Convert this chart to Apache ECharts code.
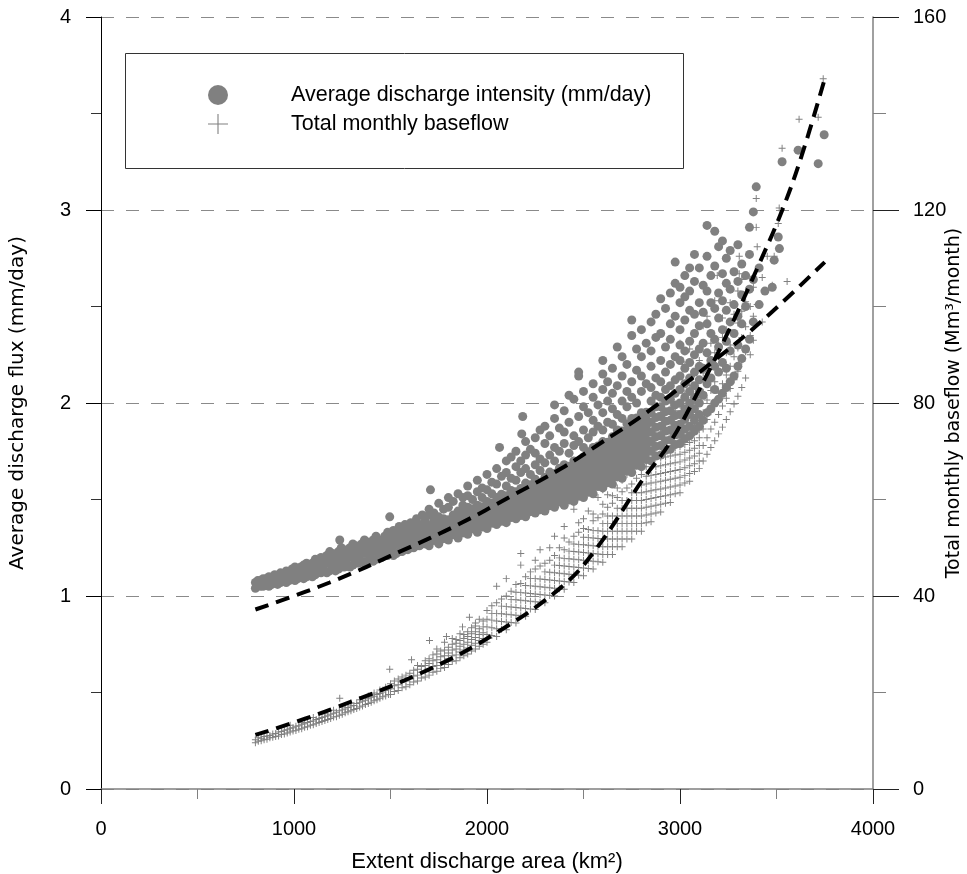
<!DOCTYPE html>
<html>
<head>
<meta charset="utf-8">
<title>Discharge area vs flux</title>
<script src="https://cdn.jsdelivr.net/npm/echarts@6/dist/echarts.min.js"></script>
<style>
  html, body { margin: 0; padding: 0; background: #ffffff; }
  #chart { width: 967px; height: 874px; }
</style>
</head>
<body>
<div id="chart"></div>
<script>
  // x axis ticks (km2) and the two y axes
  const xTicks = [0, 1000, 2000, 3000, 4000]
  const fluxTicks = [0, 1, 2, 3, 4]
  const baseflowTicks = [0, 40, 80, 120, 160]

  // average discharge intensity (mm/day, left axis), one row per area column: [km2, y, y, ...]
  const intensityColumns = [
    [800,1.04,1.07],[812,1.06,1.08],[825,1.05,1.08],[840,1.05,1.07,1.09],[855,1.06,1.09],
    [870,1.05,1.08,1.10],[885,1.06,1.09],[900,1.07,1.09,1.11],[915,1.06,1.10],[930,1.07,1.09,1.12],
    [945,1.08,1.11],[960,1.07,1.10,1.13],[975,1.08,1.12],[990,1.09,1.11,1.14],[1005,1.08,1.12,1.15],
    [1020,1.09,1.13],[1035,1.10,1.12,1.15],[1050,1.09,1.14,1.16],[1065,1.10,1.13,1.17],[1080,1.11,1.15],
    [1095,1.10,1.14,1.17],[1110,1.11,1.16,1.19],[1125,1.12,1.15,1.18],[1140,1.12,1.17,1.20],
    [1155,1.13,1.16,1.19],[1170,1.12,1.18,1.21],[1185,1.13,1.17,1.20,1.23],[1200,1.14,1.19,1.22],
    [1215,1.13,1.17,1.21],[1230,1.14,1.19,1.23],[1237,1.29],[1245,1.15,1.18,1.22,1.25],[1260,1.15,1.20,1.23],
    [1275,1.16,1.19,1.24],[1290,1.15,1.21,1.25],[1305,1.16,1.20,1.23,1.27],[1320,1.17,1.22,1.26],
    [1335,1.17,1.21,1.24],[1350,1.18,1.23,1.27],[1365,1.17,1.22,1.25,1.29],[1380,1.18,1.24,1.28],
    [1395,1.19,1.22,1.26],[1410,1.18,1.24,1.29],[1425,1.19,1.23,1.27,1.31],[1440,1.20,1.25,1.29],
    [1455,1.20,1.24,1.28],[1470,1.21,1.26,1.31],[1485,1.21,1.25,1.29,1.33],[1496,1.41],[1500,1.22,1.27,1.31],
    [1515,1.21,1.26,1.30,1.34],[1530,1.22,1.28,1.32],[1545,1.23,1.27,1.31,1.36],[1560,1.23,1.29,1.33],
    [1575,1.24,1.28,1.32,1.37],[1590,1.24,1.30,1.35],[1605,1.25,1.29,1.33,1.38],[1620,1.25,1.31,1.36],
    [1635,1.26,1.30,1.34,1.40],[1650,1.26,1.32,1.37],[1665,1.27,1.31,1.36,1.42],[1680,1.27,1.33,1.39],
    [1700,1.26,1.295,1.33,1.365,1.42,1.45],[1707,1.55],[1725,1.287,1.322,1.357,1.39,1.43],
    [1750,1.27,1.305,1.34,1.375,1.41,1.48],[1775,1.297,1.332,1.367,1.40,1.45],
    [1800,1.29,1.325,1.36,1.395,1.46,1.51],[1825,1.317,1.352,1.387,1.42,1.49],
    [1850,1.30,1.335,1.37,1.405,1.44,1.53],[1875,1.327,1.362,1.397,1.432,1.47,1.51],
    [1900,1.32,1.355,1.39,1.425,1.46,1.52,1.57],[1925,1.347,1.382,1.417,1.452,1.50],
    [1950,1.33,1.365,1.40,1.435,1.47,1.54,1.60],[1975,1.357,1.392,1.427,1.462,1.51,1.56],
    [2000,1.35,1.385,1.42,1.455,1.49,1.55,1.63],[2025,1.377,1.412,1.447,1.482,1.53,1.59],
    [2050,1.37,1.405,1.44,1.475,1.51,1.58,1.66],[2065,1.77],[2075,1.387,1.422,1.457,1.492,1.527,1.62],
    [2100,1.38,1.415,1.45,1.485,1.52,1.57,1.64,1.70],[2125,1.407,1.442,1.477,1.512,1.547,1.61,1.72],
    [2150,1.40,1.435,1.47,1.505,1.54,1.60,1.67,1.75],[2175,1.417,1.452,1.487,1.522,1.557,1.64,1.70],
    [2180,1.84],[2185,1.93],[2200,1.41,1.445,1.48,1.515,1.55,1.585,1.66,1.73,1.80],
    [2225,1.437,1.472,1.507,1.542,1.577,1.63,1.76],[2250,1.43,1.465,1.50,1.535,1.57,1.605,1.68,1.74,1.82],
    [2275,1.447,1.482,1.517,1.552,1.587,1.65,1.71,1.86],[2300,1.44,1.475,1.51,1.545,1.58,1.615,1.69,1.79,1.88],
    [2325,1.467,1.502,1.537,1.572,1.607,1.642,1.73,1.83],
    [2350,1.46,1.495,1.53,1.565,1.60,1.635,1.70,1.77,1.92,1.99],[2375,1.487,1.522,1.557,1.592,1.627,1.662,1.75,1.87],
    [2400,1.47,1.505,1.54,1.575,1.61,1.645,1.68,1.79,1.85,1.96],[2425,1.497,1.532,1.567,1.602,1.637,1.672,1.74,1.90,2.04],
    [2450,1.49,1.525,1.56,1.595,1.63,1.665,1.70,1.78,1.83,2.02],[2475,1.517,1.552,1.587,1.622,1.657,1.692,1.80,1.93,2.14,2.16],
    [2500,1.51,1.545,1.58,1.615,1.65,1.685,1.72,1.77,1.86,1.98,2.06],[2525,1.537,1.572,1.607,1.642,1.677,1.712,1.747,1.82,1.95],
    [2550,1.53,1.565,1.60,1.635,1.67,1.705,1.74,1.77,1.85,1.91,2.03,2.10],[2575,1.567,1.602,1.637,1.672,1.707,1.742,1.777,1.88,1.99],
    [2600,1.56,1.595,1.63,1.665,1.70,1.735,1.77,1.80,1.86,1.95,2.07,2.15,2.22],[2625,1.587,1.622,1.657,1.692,1.727,1.762,1.797,1.90,2.01,2.11],
    [2650,1.58,1.615,1.65,1.685,1.72,1.755,1.79,1.825,1.89,1.97,2.05,2.18],[2675,1.617,1.652,1.687,1.722,1.757,1.792,1.827,1.86,1.94,2.09,2.29],
    [2700,1.61,1.645,1.68,1.715,1.75,1.785,1.82,1.855,1.92,2.01,2.14,2.24],[2725,1.647,1.682,1.717,1.752,1.787,1.822,1.857,1.892,1.98,2.06,2.20],
    [2750,1.64,1.675,1.71,1.745,1.78,1.815,1.85,1.885,1.92,2.03,2.11,2.35,2.43],[2775,1.677,1.712,1.747,1.782,1.817,1.852,1.887,1.922,2.00,2.17,2.28],
    [2800,1.67,1.705,1.74,1.775,1.81,1.845,1.88,1.915,1.95,2.06,2.14,2.24,2.38],[2825,1.707,1.742,1.777,1.812,1.847,1.882,1.917,1.952,2.10,2.31],
    [2850,1.70,1.75,1.80,1.85,1.90,1.95,2.01,2.08,2.19,2.27,2.42],[2875,1.725,1.775,1.825,1.875,1.925,1.98,2.04,2.13,2.34,2.46],
    [2900,1.73,1.78,1.83,1.88,1.93,1.98,2.03,2.11,2.22,2.36,2.54],[2925,1.755,1.805,1.855,1.905,1.955,2.01,2.07,2.16,2.29,2.49],
    [2950,1.76,1.81,1.86,1.91,1.96,2.02,2.09,2.20,2.33,2.41,2.57],[2975,1.785,1.835,1.885,1.935,1.99,2.05,2.12,2.24,2.45,2.62,2.73],
    [3000,1.79,1.84,1.89,1.94,2.00,2.07,2.14,2.22,2.30,2.38,2.52,2.60],[3025,1.815,1.865,1.915,1.97,2.03,2.10,2.18,2.27,2.43,2.55,2.66],
    [3050,1.83,1.88,1.94,2.00,2.06,2.13,2.21,2.32,2.48,2.58,2.70],[3075,1.855,1.91,1.97,2.03,2.09,2.16,2.25,2.36,2.46,2.63,2.77],
    [3100,1.88,1.94,2.00,2.06,2.12,2.19,2.28,2.40,2.52,2.70],
    [3120,1.91,2.04,2.18,2.31,2.47,2.61],[3140,1.95,2.10,2.26,2.41,2.58,2.76,2.92],[3160,1.97,2.13,2.22,2.36,2.52,2.66],
    [3180,2.00,2.07,2.19,2.33,2.49,2.71,2.89],[3200,2.02,2.16,2.29,2.44,2.57,2.81],[3220,2.05,2.21,2.38,2.53,2.67,2.84],
    [3240,2.08,2.18,2.32,2.48,2.62,2.75],[3260,2.11,2.27,2.42,2.59,2.79],[3280,2.14,2.36,2.51,2.68],
    [3300,2.19,2.30,2.45,2.63,2.82],[3320,2.23,2.41,2.56,2.72],[3340,2.28,2.50,2.66],[3360,2.33,2.59,2.77,2.91],
    [3380,2.42,2.64,2.99],[3395,3.12],[3410,2.51,2.70],[3440,2.58],[3478,2.60],[3488,2.74],[3509,2.86],[3515,2.80],
    [3529,3.25],[3612,3.31],[3716,3.24],[3747,3.39]
  ]

  // total monthly baseflow (Mm3/month, right axis), same column layout
  const baseflowColumns = [
    [800,9.6,10.2],[815,9.9,10.6],[830,10.0,10.5],[845,10.2,10.9],[860,10.3,11.0],[875,10.6,11.1],
    [890,10.7,11.4],[905,10.9,11.5],[920,11.0,11.8],[935,11.3,11.9],[950,11.4,12.2],[965,11.6,12.3],
    [980,11.8,12.6,13.2],[995,12.0,12.7],[1010,12.1,13.0],[1025,12.4,13.1],[1040,12.5,13.4,13.8],
    [1055,12.8,13.5],[1070,12.9,13.8],[1085,13.2,14.0],[1100,13.3,14.1,14.8],[1115,13.6,14.4],
    [1130,13.8,14.6],[1145,14.0,14.8],[1160,14.2,15.0,15.6],[1175,14.4,15.2],[1190,14.6,15.5],
    [1205,14.9,15.7,16.3],[1220,15.0,15.9],[1237,18.8],[1235,15.3,16.2],[1250,15.5,16.4,17.0],
    [1265,15.8,16.6],[1280,16.0,16.9],[1295,16.2,17.2,17.8],[1310,16.5,17.3],[1325,16.7,17.7],
    [1340,17.0,17.9,18.5],[1355,17.2,18.2],[1370,17.5,18.4],[1385,17.7,18.7,19.3],[1400,18.0,19.0],
    [1415,18.3,19.2,19.9],[1430,18.5,19.6],[1445,18.8,19.8,20.5],[1460,19.1,20.1],[1475,19.3,20.4,21.1],
    [1490,19.6,20.7],[1496,24.8],
    [1500,19.6,20.8,21.8],[1520,20.2,21.4,22.4],[1540,20.4,21.6,22.8],[1560,21.0,22.2,23.2],
    [1580,21.2,22.4,23.6],[1600,21.6,22.8,24.0],[1609,26.8],[1620,22.2,23.4,24.6],[1640,22.4,23.6,24.8,25.6],
    [1660,23.0,24.2,25.4],[1680,23.2,24.4,25.6,26.6],[1700,23.6,24.8,26.0,27.0],[1702,30.8],
    [1720,24.2,25.4,26.6,27.8],[1740,24.4,25.6,26.8,28.0,29.0],[1760,25.0,26.2,27.4,28.6],
    [1780,25.2,26.4,27.6,28.8,30.4],[1790,31.6],[1800,25.8,27.0,28.2,29.4],[1820,26.4,27.6,28.8,30.0,31.2],
    [1840,26.6,27.8,29.0,30.2,31.0],[1860,27.2,28.4,29.6,30.8,32.2],[1873,33.6],[1880,27.6,28.8,30.0,31.2,32.0],
    [1900,28.0,29.2,30.4,31.6,32.6],[1909,35.6],[1920,28.6,29.8,31.0,32.2,33.4],[1940,29.0,30.2,31.4,32.6,33.8,34.4],
    [1960,29.6,30.8,32.0,33.2,35.2],[1980,30.0,31.2,32.4,33.6,34.8],
    [2000,30.4,32.0,33.6,35.2,37.0],[2025,31.8,33.4,35.0,36.4,38.0],[2050,31.6,33.2,34.8,36.4,38.6,42.0],
    [2075,33.1,34.7,36.3,37.9,39.4],[2100,33.0,34.6,36.2,37.8,40.0,43.6],[2125,34.5,36.1,37.7,39.3,41.0],
    [2150,34.4,36.0,37.6,39.2,40.8,42.4],[2175,35.9,37.5,39.1,40.7,42.6,46.4,48.8],
    [2200,35.8,37.4,39.0,40.6,42.2,44.0],[2225,37.3,38.9,40.5,42.1,43.6,45.0],
    [2250,37.2,38.8,40.4,42.0,43.6,45.6,47.4],[2275,38.7,40.3,41.9,43.5,46.2,49.6],
    [2300,38.6,40.2,41.8,43.4,45.0,46.8],[2325,40.1,41.7,43.3,44.9,47.4,50.0],
    [2350,40.0,41.6,43.2,44.8,46.4,48.4,52.4],[2375,41.5,43.1,44.7,46.3,47.9,50.0],
    [2400,41.4,43.0,44.6,46.2,47.8,49.6,52.0,54.4],[2425,42.9,44.5,46.1,47.7,49.3,51.2],
    [2450,42.8,44.4,46.0,47.6,49.2,50.8,52.4,58.0],[2475,44.3,45.9,47.5,49.1,50.7,53.2,55.2],
    [2500,44.2,45.8,47.4,49.0,50.6,52.2,54.0,56.0],[2525,45.7,47.3,48.9,50.5,52.1,53.8,57.6],
    [2550,45.6,47.2,48.8,50.4,52.0,53.6,55.6,57.0],[2575,47.1,48.7,50.3,51.9,53.5,56.2,60.4],
    [2600,47.0,48.6,50.2,51.8,53.4,55.0,57.0,59.0,62.0],[2625,48.6,50.2,51.8,53.4,55.0,56.6,58.4,61.0],
    [2650,48.6,50.2,51.8,53.4,55.0,56.6,59.2,60.8,64.0],[2675,50.2,51.8,53.4,55.0,56.6,58.2,60.4,62.4,67.2],
    [2700,50.2,51.8,53.4,55.0,56.6,58.2,59.8,61.6,64.0],[2725,51.8,53.4,55.0,56.6,58.2,59.8,62.4,65.2,66.8],
    [2750,51.8,53.4,55.0,56.6,58.2,59.8,61.4,63.2,65.6,68.0],[2775,53.4,55.0,56.6,58.2,59.8,61.4,64.4,67.0,69.6],
    [2800,53.4,55.0,56.6,58.2,59.8,61.4,63.0,65.2,67.8,70.4],[2825,55.2,56.8,58.4,60.0,61.6,63.2,64.8,66.8,69.4],
    [2850,55.4,57.0,58.6,60.2,61.8,63.4,65.0,68.0,70.8,72.4],[2875,57.2,58.8,60.4,62.0,63.6,65.2,66.8,69.2,71.6,74.4],
    [2900,57.4,59.0,60.6,62.2,63.8,65.4,67.0,68.6,71.0,74.0,78.0],[2925,59.2,60.8,62.4,64.0,65.6,67.2,68.8,72.0,75.6],
    [2950,59.4,61.0,62.6,64.2,65.8,67.4,69.0,70.6,73.6,76.8,80.0],[2975,61.2,62.8,64.4,66.0,67.6,69.2,70.8,74.4,78.4,84.8],
    [3000,61.4,63.0,64.6,66.2,67.8,69.4,71.0,72.6,75.6,79.6,92.4],[3025,63.4,65.0,66.6,68.2,69.8,71.4,73.0,74.6,77.6,82.0,88.0],
    [3050,63.8,65.4,67.0,68.6,70.2,71.8,73.4,75.0,78.4,83.6,91.2],[3075,65.8,67.4,69.0,70.6,72.2,73.8,75.4,77.0,80.4,86.0,94.4],
    [3100,66.4,68.0,69.6,71.2,72.8,74.4,76.0,77.6,81.6,84.8,88.8],
    [3120,68.0,71.2,74.6,78.0,82.2,86.2,96.0],[3140,69.4,72.8,76.6,80.6,84.0,87.6,98.0],[3160,70.8,74.6,78.2,82.6,89.0,92.4],
    [3180,72.2,76.0,80.2,84.4,90.4,101.2],[3193,106.4],[3200,73.6,77.6,82.0,86.6,92.0],[3220,75.0,79.4,84.0,88.4,93.6,97.6],
    [3240,76.6,81.0,85.8,90.4,95.2],[3260,78.2,83.0,87.6,92.0,96.8,100.8],[3280,79.8,84.8,89.6,94.4,98.4],
    [3300,81.4,86.6,91.4,96.6,103.2],[3307,110.4,106.8],[3320,83.2,88.6,93.6,99.0,105.6],[3340,85.2,90.6,95.8,101.0],
    [3364,90.0,94.0,100.0],[3380,93.0,98.0,104.0],[3395,116.4,122.4],[3400,100.4,112.4],[3426,96.8,106.0],
    [3452,110.4],[3478,104.4],[3488,110.4],[3509,117.2],[3514,120.4],[3529,132.8],[3555,105.2],
    [3617,138.8],[3716,139.2],[3742,147.2]
  ]

  // fitted curves (dashed black)
  const intensityTrend = [
    [800,0.93],[1185,1.07],[1560,1.235],[1850,1.37],[2130,1.52],[2400,1.67],[2570,1.78],
    [2840,1.96],[3190,2.23],[3430,2.43],[3750,2.73]
  ]
  const baseflowTrend = [
    [800,11.2],[1185,16.4],[1700,24.8],[2050,32.4],[2390,42.0],[2570,50.0],[2805,64.0],
    [2945,71.6],[3100,82.8],[3255,95.2],[3410,108.8],[3530,120.0],[3630,131.2],[3750,147.2]
  ]

  // [x, y1, y2, ...] -> [[x, y1], [x, y2], ...]
  function toPoints(columns) {
    let pts = []
    columns.forEach(function (col) {
      for (let i = 1; i < col.length; i++) pts.push([col[0], col[i]])
    })
    return pts
  }

  const GRAY = '#808080'
  const FONT = 'Liberation Sans, Arial, sans-serif'
  const TITLE_FONT = 'DejaVu Sans, sans-serif'
  const PLUS = 'path://M4.3,0H5.7V4.3H10V5.7H5.7V10H4.3V5.7H0V4.3H4.3Z'
  const PLUS_THIN = 'path://M9.45,0H10.55V9.45H20V10.55H10.55V20H9.45V10.55H0V9.45H9.45Z'
  const plainNumber = function (v) { return String(v) }

  const chart = echarts.init(document.getElementById('chart'), null, { renderer: 'canvas' })

  const option = {
    animation: false,
    backgroundColor: '#ffffff',
    grid: { left: 101, right: 94, top: 17, bottom: 85, outerBoundsMode: 'none', containLabel: false },
    // legend frame drawn separately, the legend sits inside it
    graphic: [{
      type: 'rect',
      shape: { x: 125.5, y: 53.5, width: 558, height: 115 },
      style: { fill: '#ffffff', stroke: '#333333', lineWidth: 1 },
      z: 5
    }],
    legend: {
      orient: 'vertical',
      left: 203,
      top: 79,
      itemWidth: 40,
      itemHeight: 20,
      itemGap: 7,
      z: 10,
      data: [
        { name: 'Average discharge intensity (mm/day)', icon: 'circle' },
        { name: 'Total monthly baseflow', icon: PLUS_THIN }
      ],
      textStyle: { fontFamily: FONT, fontSize: 21.5, color: '#000', padding: [0, 0, 0, 48] }
    },
    xAxis: {
      type: 'value',
      min: xTicks[0],
      max: xTicks[xTicks.length - 1],
      interval: 1000,
      name: 'Extent discharge area (km²)',
      nameLocation: 'middle',
      nameGap: 62,
      nameMoveOverlap: false,
      nameTextStyle: { fontFamily: FONT, fontSize: 22, color: '#000' },
      axisLine: { show: true, lineStyle: { color: GRAY, width: 1.5 } },
      axisTick: { show: true, length: 15, lineStyle: { color: '#222' } },
      minorTick: { show: true, splitNumber: 2, length: 10, lineStyle: { color: GRAY } },
      axisLabel: { margin: 30, fontFamily: FONT, fontSize: 20, color: '#000', formatter: plainNumber },
      splitLine: { show: false }
    },
    yAxis: [{
      type: 'value',
      min: fluxTicks[0],
      max: fluxTicks[fluxTicks.length - 1],
      interval: 1,
      position: 'left',
      name: 'Average discharge flux (mm/day)',
      nameLocation: 'middle',
      nameRotate: 90,
      nameGap: 73,
      nameMoveOverlap: false,
      nameTextStyle: { fontFamily: TITLE_FONT, fontSize: 20, color: '#000' },
      axisLine: { show: true, lineStyle: { color: '#000', width: 1 } },
      axisTick: { show: true, length: 15, lineStyle: { color: '#000' } },
      minorTick: { show: true, splitNumber: 2, length: 10, lineStyle: { color: '#333' } },
      axisLabel: { margin: 30, fontFamily: FONT, fontSize: 20, color: '#000', formatter: plainNumber },
      splitLine: { show: true, lineStyle: { color: '#8a8a8a', width: 1, type: [13, 12] } }
    }, {
      type: 'value',
      min: baseflowTicks[0],
      max: baseflowTicks[baseflowTicks.length - 1],
      interval: 40,
      position: 'right',
      name: 'Total monthly baseflow (Mm³/month)',
      nameLocation: 'middle',
      nameRotate: 90,
      nameGap: 72,
      nameMoveOverlap: false,
      nameTextStyle: { fontFamily: TITLE_FONT, fontSize: 19, color: '#000' },
      axisLine: { show: true, lineStyle: { color: GRAY, width: 1.5 } },
      axisTick: { show: true, length: 26, lineStyle: { color: '#222' } },
      minorTick: { show: true, splitNumber: 2, length: 13, lineStyle: { color: GRAY } },
      axisLabel: { margin: 40, fontFamily: FONT, fontSize: 20, color: '#000', formatter: plainNumber },
      splitLine: { show: false }
    }],
    series: [{
      name: 'Average discharge intensity (mm/day)',
      type: 'scatter',
      yAxisIndex: 0,
      symbol: 'circle',
      symbolSize: 9,
      itemStyle: { color: GRAY, opacity: 1 },
      data: toPoints(intensityColumns),
      z: 2
    }, {
      name: 'Total monthly baseflow',
      type: 'scatter',
      yAxisIndex: 1,
      symbol: PLUS,
      symbolSize: 7,
      itemStyle: { color: GRAY, opacity: 1 },
      data: toPoints(baseflowColumns),
      z: 3
    }, {
      name: 'intensity fit',
      type: 'line',
      yAxisIndex: 0,
      data: intensityTrend,
      showSymbol: false,
      smooth: 0.4,
      lineStyle: { color: '#000', width: 4, type: [14, 8] },
      z: 4
    }, {
      name: 'baseflow fit',
      type: 'line',
      yAxisIndex: 1,
      data: baseflowTrend,
      showSymbol: false,
      smooth: 0.4,
      lineStyle: { color: '#000', width: 4, type: [14, 8] },
      z: 4
    }]
  }

  chart.setOption(option)
</script>
</body>
</html>
